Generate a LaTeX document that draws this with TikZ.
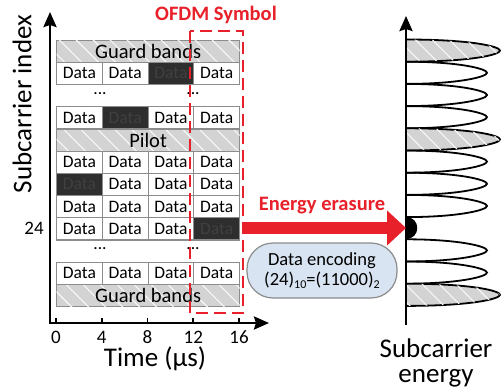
\documentclass[tikz,border=0pt]{standalone}
\usepackage{fontspec}
\setmainfont{Carlito}
\usetikzlibrary{patterns.meta,arrows.meta}
\definecolor{myred}{HTML}{E8202A}
\definecolor{gbgray}{HTML}{D3D3D3}
\definecolor{cellborder}{HTML}{8C8C8C}
\definecolor{darkfill}{HTML}{2E2E2E}
\definecolor{boxblue}{HTML}{D8E4F1}
\newcommand{\fsz}[1]{\fontsize{#1}{#1}\selectfont}
\begin{document}
\begin{tikzpicture}[x=1pt,y=-1pt,
  cell/.style={draw=cellborder, line width=1.2pt, fill=white, minimum width=45.75pt,
    minimum height=22.2pt, inner sep=0pt, anchor=north west, font=\fsz{17.5}},
  darkcell/.style={cell, fill=darkfill, text=black!75},
  hatch/.style={fill=gbgray, postaction={pattern={Lines[angle=-45,distance=12pt,line width=1.1pt]}, pattern color=white!85!gbgray}},
  nohatch/.style={},
  band/.style={draw=cellborder, line width=1.2pt, hatch, minimum width=183pt,
    minimum height=22.2pt, inner sep=0pt, anchor=north west, font=\fsz{20.5}},
  axis/.style={line width=2.4pt, black},
  lobe/.style={line width=1.8pt, black},
  dots/.style={font=\fsz{17.5}, inner sep=0pt},
  redtxt/.style={text=myred, font=\fsz{20.5}\bfseries},
  ticklbl/.style={font=\fsz{19}, inner sep=0pt}
]
\useasboundingbox (0,0) rectangle (501,388);

% axes
\coordinate (ytop) at (50,12);
\coordinate (org) at (50,323);
\coordinate (xend) at (269,323);
\draw[axis, {Stealth[length=15pt,width=13pt,inset=2pt]}-{Stealth[length=15pt,width=13pt,inset=2pt]}, line join=miter]
  (ytop) -- (org) -- (xend);

% grid rows
\node[band] (gb1) at (56,39.5) {Guard bands};
\node[band] (pilot) at (56,{39.5+22.2*4}) {Pilot};
\node[band] (gb2) at (56,{39.5+22.2*11}) {Guard bands};

\foreach \r in {1,3,5,6,7,8,10}{
  \foreach \c in {0,1,2,3}{
    \node[cell] (c-\r-\c) at ({56+45.75*\c},{39.5+22.2*\r}) {Data};
  }
}
% dark cells
\node[darkcell] (d1) at ({56+45.75*2},{39.5+22.2*1}) {Data};
\node[darkcell] (d2) at ({56+45.75*1},{39.5+22.2*3}) {Data};
\node[darkcell] (d3) at ({56+45.75*0},{39.5+22.2*6}) {Data};
\node[darkcell] (d4) at ({56+45.75*3},{39.5+22.2*8}) {Data};

% dots
\node[dots] (dt1) at (100,94) {...};
\node[dots] (dt2) at (193,94) {...};
\node[dots] (dt3) at (100,249) {...};
\node[dots] (dt4) at (193,249) {...};

% ticks and labels
\foreach \x/\l in {56/0,101.75/4,147.5/8,193.25/12,239/16}{
  \draw[line width=1.6pt] (\x,323) -- (\x,318);
  \node[ticklbl] (t\l) at (\x,337) {\l};
}
\node[font=\fsz{27}, inner sep=0pt] (xlabel) at (155,359) {Time (µs)};
\node[font=\fsz{27}, inner sep=0pt, rotate=90] (ylabel) at (22,104) {Subcarrier index};
\node[font=\fsz{19}, inner sep=0pt] (l24) at (34,228) {24};

% OFDM symbol
\node[redtxt, inner sep=0pt] (ofdm) at (216,15) {OFDM Symbol};
\draw[myred, line width=2.4pt, dash pattern=on 12pt off 6pt] (190,31) rectangle (243,313);

% right axis and lobes
\coordinate (rbot) at (406,325);
\coordinate (rtop) at (406,16);
\foreach \k in {0,...,11}{
  \pgfmathsetmacro{\t}{39.5+22.2*\k}
  \pgfmathsetmacro{\b}{\t+22.2}
  \pgfmathsetmacro{\m}{\t+11.1}
  \ifnum\k=0 \def\tip{500}\def\sty{hatch}\else
  \ifnum\k=4 \def\tip{500}\def\sty{hatch}\else
  \ifnum\k=11 \def\tip{500}\def\sty{hatch}\else
  \def\tip{487}\def\sty{nohatch}\fi\fi\fi
  \ifnum\k=8
    \fill[black] (406,\t) .. controls (421,\t) and (421,\b) .. (406,\b) -- cycle;
  \else
    \draw[lobe, \sty] (406,\t) .. controls ({\tip-28},\t) and (\tip,{\m-4}) .. (\tip,\m)
      .. controls (\tip,{\m+4}) and ({\tip-28},\b) .. (406,\b);
  \fi
}
\draw[axis, -{Stealth[length=15pt,width=13pt,inset=2pt]}] (rbot) -- (rtop);

% energy erasure arrow
\coordinate (as) at (243,228);
\coordinate (ae) at (406,228);
\draw[myred, line width=12pt, -{Triangle[length=19pt,width=34pt]}] (as) -- (ae);
\node[redtxt, inner sep=0pt] (eer) at (322,206) {Energy erasure};

% encoding box
\node[draw=cellborder, line width=1.2pt, fill=boxblue, rounded corners=26pt,
  minimum width=150pt, minimum height=55pt, align=center, font=\fsz{18.5},
  inner sep=0pt] (enc) at (322,270.5)
  {Data encoding\\[1pt](24){\fsz{12}\raisebox{-3pt}{10}}=(11000){\fsz{12}\raisebox{-3pt}{2}}};

\node[font=\fsz{27}, inner sep=0pt] (elabel1) at (436,348) {Subcarrier};
\node[font=\fsz{27}, inner sep=0pt, anchor=base] (elabel2) at ([yshift=-25pt]elabel1.base) {energy};
\end{tikzpicture}
\end{document}
